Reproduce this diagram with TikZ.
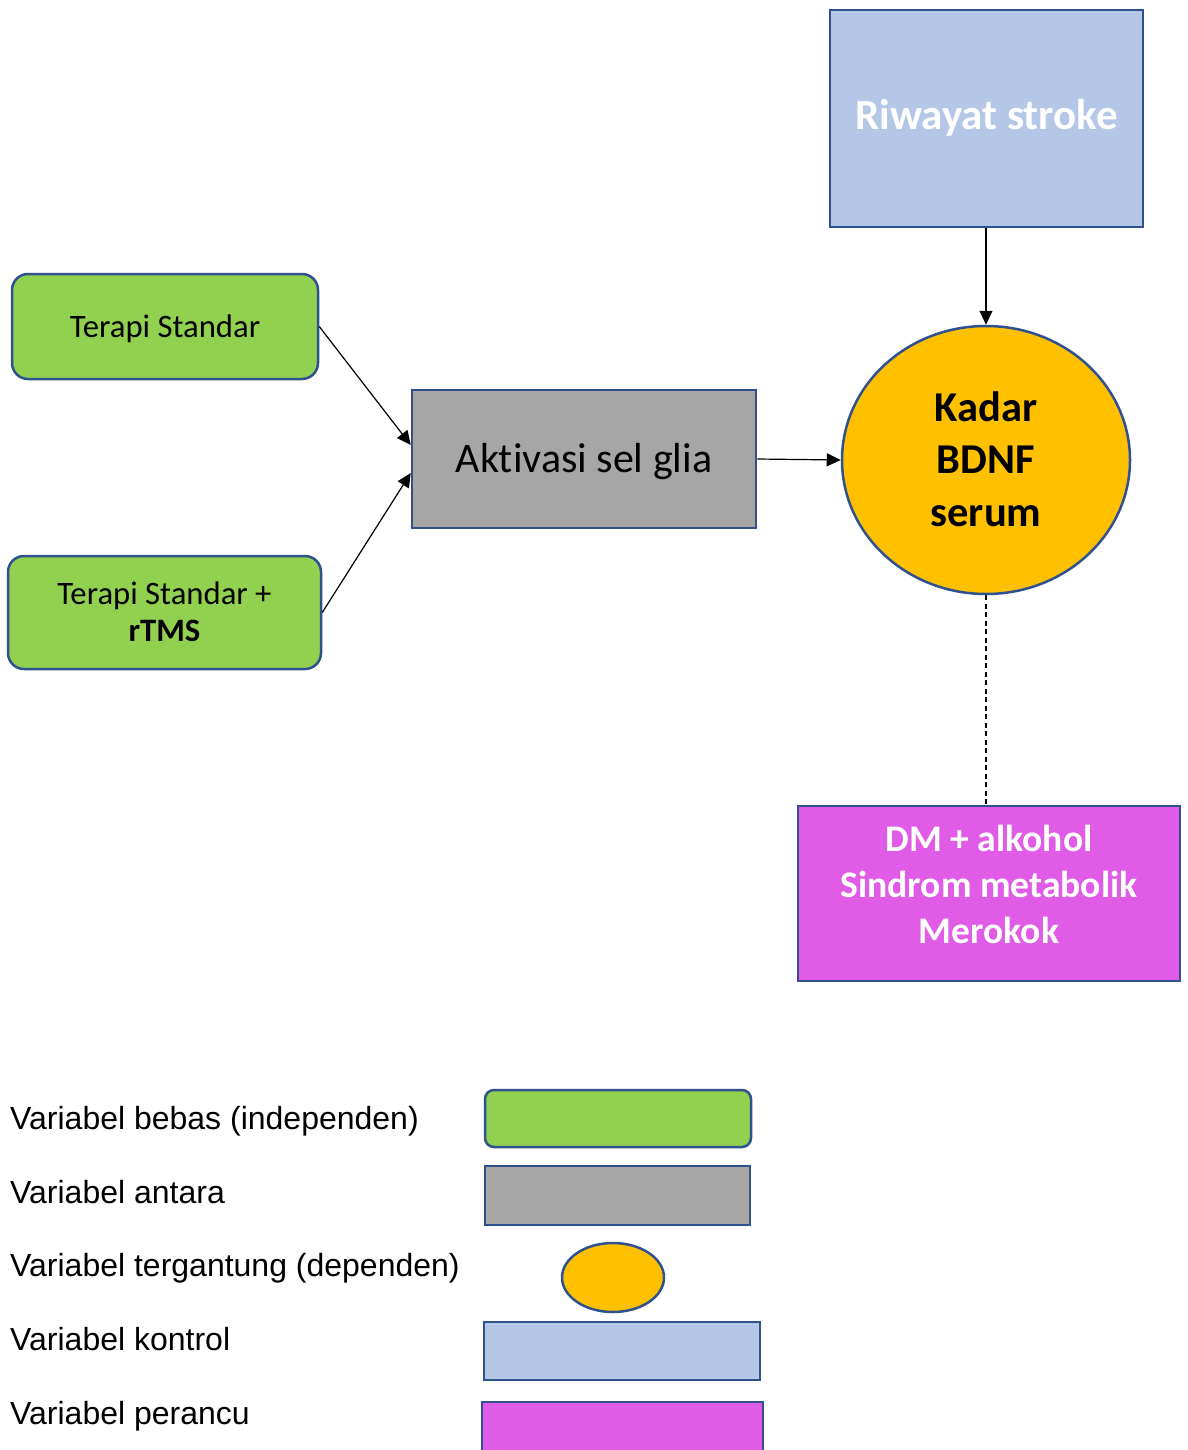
\documentclass[tikz,border=0pt]{standalone}
\usepackage{fontspec}
\setmainfont{Carlito}[Ligatures=NoCommon]
\newfontfamily\arialf{Liberation Sans}
\usetikzlibrary{shapes.geometric,arrows.meta}
\definecolor{bord}{HTML}{2F528F}
\definecolor{ctrlc}{HTML}{B4C7E7}
\definecolor{indepc}{HTML}{92D050}
\definecolor{grayc}{HTML}{A6A6A6}
\definecolor{goldc}{HTML}{FFC000}
\definecolor{magc}{HTML}{E05BE6}
\begin{document}
\begin{tikzpicture}[x=1pt,y=-1pt,
  shapebox/.style={draw=bord, line width=2.5pt, inner sep=0pt, align=center},
  rbox/.style={shapebox, rounded corners=16pt},
  arr/.style={line width=1.2pt, -{Triangle[length=14pt,width=13pt]}},
  legtext/.style={anchor=base west, inner sep=0pt, font=\arialf\fontsize{32}{38}\selectfont}
]
\useasboundingbox (0,0) rectangle (1187,1450);
\fill[white] (0,0) rectangle (1187,1450);

% main diagram
\node[shapebox, fill=ctrlc, minimum width=313pt, minimum height=217pt, text=white,
  text height=23pt, text depth=0pt,
  font=\bfseries\fontsize{43}{50}\selectfont] (rs) at (986.5,118.5) {Riwayat stroke};
\node[rbox, fill=indepc, minimum width=306pt, minimum height=105pt,
  text height=21.6pt, text depth=0pt,
  font=\fontsize{32.7}{37.7}\selectfont] (ts) at (165,326.5) {Terapi Standar};
\node[rbox, fill=indepc, minimum width=313pt, minimum height=113pt,
  font=\fontsize{32.7}{37.7}\selectfont] (tsr) at (164.5,612.5)
  {\rule{0pt}{32pt}Terapi Standar +\\\textbf{rTMS}\rule[-11.3pt]{0pt}{0pt}};
\node[shapebox, fill=grayc, minimum width=344pt, minimum height=138pt,
  text height=27.4pt, text depth=0pt,
  font=\fontsize{42}{50}\selectfont] (ak) at (584,459) {Aktivasi sel glia};
\node[shapebox, ellipse, fill=goldc, minimum width=288pt, minimum height=268pt,
  font=\bfseries\fontsize{42.5}{52.2}\selectfont] (kd) at (986,460)
  {\rule{0pt}{38pt}Kadar\\BDNF\\serum\rule[-10.2pt]{0pt}{0pt}};
\node[shapebox, fill=magc, minimum width=382pt, minimum height=175pt, text=white,
  font=\bfseries\fontsize{37.6}{46}\selectfont] (dm) at (989,893.5)
  {\rule{0pt}{36pt}DM + alkohol\\Sindrom metabolik\\Merokok\rule[-29pt]{0pt}{0pt}};

% connectors
\draw[arr] (ts.east) -- ([yshift=14pt]ak.west);
\draw[arr] (tsr.east) -- ([yshift=-14pt]ak.west);
\draw[arr] (ak.east) -- (kd.west);
\draw[arr] (rs.south -| kd.north) -- (kd.north);
\draw[line width=1.2pt, dash pattern=on 5pt off 3.5pt] (kd.south) -- (kd.south |- dm.north);

% legend
\node[legtext] (l1) at (10,1129.5) {Variabel bebas (independen)};
\node[legtext] (l2) at (10,1203.5) {Variabel antara};
\node[legtext] (l3) at (10,1276.5) {Variabel tergantung (dependen)};
\node[legtext] (l4) at (10,1350.5) {Variabel kontrol};
\node[legtext] (l5) at (10,1424.5) {Variabel perancu};

\node[shapebox, rounded corners=9pt, fill=indepc, minimum width=266pt, minimum height=57pt] (g1) at (618,1118.5) {};
\node[shapebox, fill=grayc, minimum width=265pt, minimum height=59pt] (g2) at (617.5,1195.5) {};
\node[shapebox, ellipse, fill=goldc, minimum width=102pt, minimum height=69pt] (g3) at (613,1277.5) {};
\node[shapebox, fill=ctrlc, minimum width=276pt, minimum height=58pt] (g4) at (622,1351) {};
\node[shapebox, fill=magc, minimum width=281pt, minimum height=60pt] (g5) at (622.5,1432) {};
\end{tikzpicture}
\end{document}
